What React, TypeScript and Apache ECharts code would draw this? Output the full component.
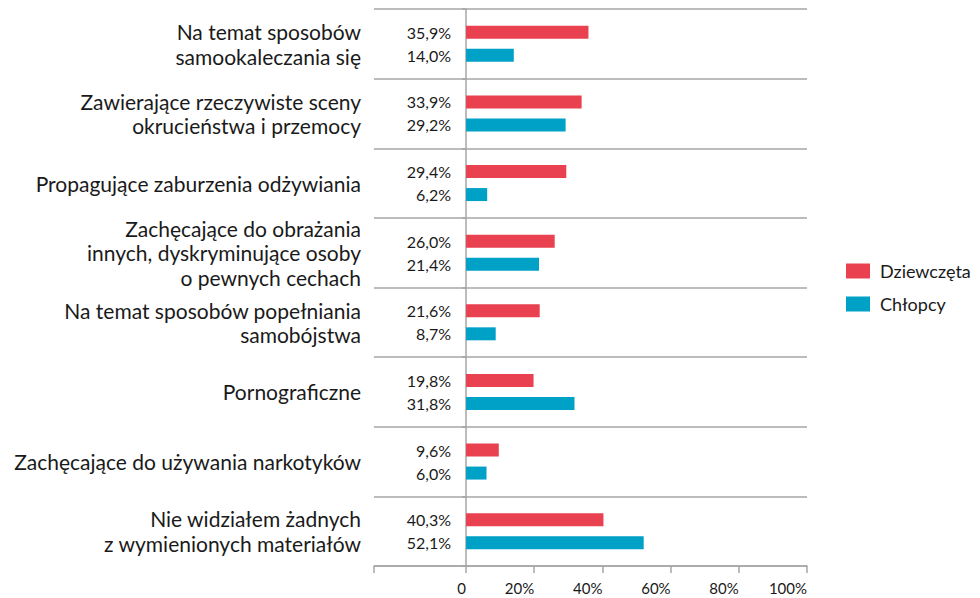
import React, { useEffect, useRef } from "react";
import * as echarts from "echarts";

const categories = [
  "Na temat sposobów\nsamookaleczania się",
  "Zawierające rzeczywiste sceny\nokrucieństwa i przemocy",
  "Propagujące zaburzenia odżywiania",
  "Zachęcające do obrażania\ninnych, dyskryminujące osoby\no pewnych cechach",
  "Na temat sposobów popełniania\nsamobójstwa",
  "Pornograficzne",
  "Zachęcające do używania narkotyków",
  "Nie widziałem żadnych\nz wymienionych materiałów",
];
const girls = [35.9, 33.9, 29.4, 26.0, 21.6, 19.8, 9.6, 40.3];
const boys = [14.0, 29.2, 6.2, 21.4, 8.7, 31.8, 6.0, 52.1];
const tickValues = [-27, 0, 20, 40, 60, 80, 100];
const labelValues = [0, 20, 40, 60, 80, 100];

const FONT = "Lato, 'Noto Sans', sans-serif";
const fmt = (v: number) => v.toFixed(1).replace(".", ",") + "%";

export default function App() {
  const ref = useRef<HTMLDivElement>(null);
  useEffect(() => {
    if (!ref.current) return;
    const chart = echarts.init(ref.current, null, { renderer: "svg" });
    const barLabel = {
      show: true,
      position: "left" as const,
      distance: 15,
      fontSize: 16,
      fontFamily: FONT,
      color: "#1a1a1a",
      formatter: (p: any) => fmt(p.value),
    };
    chart.setOption({
      animation: false,
      textStyle: { fontFamily: FONT },
      grid: { left: 374, right: 173, top: 9, bottom: 32, containLabel: false },
      legend: {
        orient: "vertical",
        left: 846,
        top: 262,
        padding: 0,
        itemWidth: 24,
        itemHeight: 15,
        itemGap: 15,
        icon: "rect",
        textStyle: { fontSize: 18, color: "#1a1a1a", fontFamily: FONT, padding: [0, 0, 0, 5] },
        data: ["Dziewczęta", "Chłopcy"],
      },
      xAxis: {
        type: "value",
        min: -27,
        max: 100,
        axisLine: { show: true, lineStyle: { color: "#a6a6a6", width: 1.5 } },
        axisTick: {
          show: true,
          length: 7,
          customValues: tickValues,
          lineStyle: { color: "#a6a6a6", width: 1.5 },
        },
        axisLabel: {
          customValues: labelValues,
          align: "right",
          margin: 14,
          fontSize: 15,
          color: "#1a1a1a",
          fontFamily: FONT,
          formatter: (v: number) => (v === 0 ? "0" : v + "%"),
        },
        splitLine: { show: false },
      },
      yAxis: {
        type: "category",
        inverse: true,
        data: categories,
        axisLine: { show: true, lineStyle: { color: "#a6a6a6", width: 1.5 } },
        axisTick: { show: true, length: 4, lineStyle: { color: "#a6a6a6", width: 1.5 } },
        splitLine: { show: true, lineStyle: { color: "#a6a6a6", width: 1.5 } },
        axisLabel: {
          fontSize: 21,
          lineHeight: 24.5,
          color: "#1a1a1a",
          margin: 13,
          fontFamily: FONT,
          align: "right",
        },
      },
      series: [
        {
          name: "Dziewczęta",
          type: "bar",
          data: girls,
          barWidth: 13,
          barGap: "77%",
          itemStyle: { color: "#e9414f" },
          label: barLabel,
        },
        {
          name: "Chłopcy",
          type: "bar",
          data: boys,
          barWidth: 13,
          barGap: "77%",
          itemStyle: { color: "#00a1c7" },
          label: barLabel,
        },
      ],
    });
    return () => chart.dispose();
  }, []);
  return <div ref={ref} style={{ width: 980, height: 598, position: "absolute", left: 0, top: 0 }} />;
}
